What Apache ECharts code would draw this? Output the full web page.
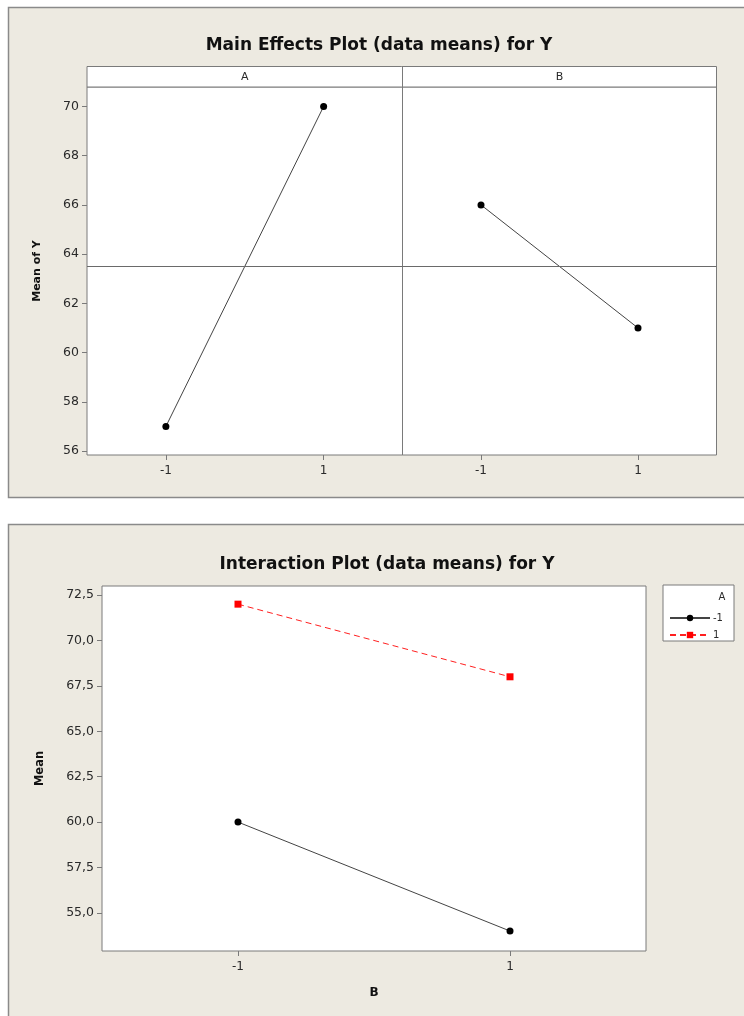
<!DOCTYPE html>
<html>
<head>
<meta charset="utf-8">
<script src="https://cdn.jsdelivr.net/npm/echarts@6/dist/echarts.min.js"></script>
<style>
  html, body { margin: 0; padding: 0; background: #ffffff; }
  #chart { width: 744px; height: 1016px; }
</style>
</head>
<body>
<div id="chart"></div>
<script>
// ---- data ----
const levels = [-1, 1];
const factorNames = ['A', 'B'];
const meanA = [57, 70];          // Mean of Y at A = -1, 1
const meanB = [66, 61];          // Mean of Y at B = -1, 1
const grandMean = 63.5;
const interANeg = [60, 54];      // A = -1, over B = -1, 1
const interAPos = [72, 68];      // A = 1, over B = -1, 1
const interSeriesNames = ['-1', '1'];
const mainTicks = [56, 58, 60, 62, 64, 66, 68, 70];
const interTicks = [55, 57.5, 60, 62.5, 65, 67.5, 70, 72.5];

const FONT = 'DejaVu Sans';
const BG = '#EDEAE1';
const FRAME = '#8a8a8a';
const AXISC = '#7a7a7a';
const TXT = '#2a2a2a';

function pts(ys) { return levels.map((x, i) => [x, ys[i]]); }

function xAxisDef(gridIndex, extra) {
  return Object.assign({
    type: 'value', gridIndex: gridIndex, min: -2, max: 2, position: 'bottom',
    axisLine: { show: false, onZero: false },
    axisTick: { show: true, customValues: levels, length: 5, lineStyle: { color: AXISC } },
    axisLabel: { customValues: levels, color: TXT, fontFamily: FONT, fontSize: 12, margin: 10 },
    splitLine: { show: false }
  }, extra || {});
}

const grids = [
  { left: 87, top: 87, width: 315.5, height: 368 },
  { left: 402.5, top: 87, width: 314, height: 368 },
  { left: 102, top: 586, width: 544, height: 365 }
].map(g => Object.assign({ show: true, backgroundColor: '#ffffff', borderColor: AXISC, borderWidth: 1 }, g));

const mainLine = {
  silent: true, symbol: 'none', label: { show: false },
  lineStyle: { color: '#6a6a6a', type: 'solid', width: 1 },
  data: [{ yAxis: grandMean }]
};

const option = {
  animation: false,
  backgroundColor: '#ffffff',
  graphic: [
    { type: 'rect', z: -10, shape: { x: 8.5, y: 7.5, width: 780, height: 490 },
      style: { fill: BG, stroke: FRAME, lineWidth: 1.5 } },
    { type: 'rect', z: -10, shape: { x: 8.5, y: 524.5, width: 780, height: 540 },
      style: { fill: BG, stroke: FRAME, lineWidth: 1.5 } },
    { type: 'rect', z: 5, shape: { x: 87, y: 66.5, width: 629.5, height: 20.5 },
      style: { fill: '#ffffff', stroke: AXISC, lineWidth: 1 } },
    { type: 'line', z: 6, shape: { x1: 402.5, y1: 66.5, x2: 402.5, y2: 87 },
      style: { stroke: AXISC, lineWidth: 1 } },
    { type: 'text', z: 6, x: 244.7, y: 77, style: { text: factorNames[0], fontFamily: FONT, fontSize: 11, fill: TXT, align: 'center', verticalAlign: 'middle' } },
    { type: 'text', z: 6, x: 559.5, y: 77, style: { text: factorNames[1], fontFamily: FONT, fontSize: 11, fill: TXT, align: 'center', verticalAlign: 'middle' } },
    { type: 'rect', z: 5, shape: { x: 663, y: 585, width: 71, height: 56 },
      style: { fill: '#ffffff', stroke: AXISC, lineWidth: 1 } },
    { type: 'text', z: 6, x: 722, y: 597, style: { text: 'A', fontFamily: FONT, fontSize: 10, fill: TXT, align: 'center', verticalAlign: 'middle' } }
  ],
  title: [
    { text: 'Main Effects Plot (data means) for Y', left: 374, top: 32, textAlign: 'center',
      textStyle: { fontFamily: FONT, fontSize: 17, fontWeight: 'bold', color: '#111' } },
    { text: 'Interaction Plot (data means) for Y', left: 382, top: 551, textAlign: 'center',
      textStyle: { fontFamily: FONT, fontSize: 17, fontWeight: 'bold', color: '#111' } }
  ],
  legend: {
    data: interSeriesNames, orient: 'vertical', left: 664, top: 608,
    itemWidth: 40, itemHeight: 8, itemGap: 7, z: 7,
    textStyle: { fontFamily: FONT, fontSize: 10, color: TXT, padding: [0, 0, 0, -2] }
  },
  grid: grids,
  xAxis: [
    xAxisDef(0),
    xAxisDef(1),
    xAxisDef(2, { name: 'B', nameLocation: 'middle', nameGap: 36,
      nameTextStyle: { fontFamily: FONT, fontSize: 12, fontWeight: 'bold', color: '#111' } })
  ],
  yAxis: [
    { type: 'value', gridIndex: 0, min: 55.84, max: 70.79, position: 'left',
      name: 'Mean of Y', nameLocation: 'middle', nameRotate: 90, nameGap: 44,
      nameTextStyle: { fontFamily: FONT, fontSize: 11, fontWeight: 'bold', color: '#111' },
      axisLine: { show: false, onZero: false },
      axisTick: { show: true, customValues: mainTicks, length: 5, lineStyle: { color: AXISC } },
      axisLabel: { customValues: mainTicks, color: TXT, fontFamily: FONT, fontSize: 12.5, margin: 8 },
      splitLine: { show: false } },
    { type: 'value', gridIndex: 1, min: 55.84, max: 70.79, position: 'left',
      axisLine: { show: false, onZero: false }, axisTick: { show: false }, axisLabel: { show: false }, splitLine: { show: false } },
    { type: 'value', gridIndex: 2, min: 52.9, max: 73.0, position: 'left',
      name: 'Mean', nameLocation: 'middle', nameRotate: 90, nameGap: 56,
      nameTextStyle: { fontFamily: FONT, fontSize: 11.5, fontWeight: 'bold', color: '#111' },
      axisLine: { show: false, onZero: false },
      axisTick: { show: true, customValues: interTicks, length: 5, lineStyle: { color: AXISC } },
      axisLabel: { customValues: interTicks, color: TXT, fontFamily: FONT, fontSize: 12.5, margin: 8,
        formatter: v => v.toFixed(1).replace('.', ',') },
      splitLine: { show: false } }
  ],
  series: [
    { type: 'line', xAxisIndex: 0, yAxisIndex: 0, data: pts(meanA),
      symbol: 'circle', symbolSize: 7, itemStyle: { color: '#000' },
      lineStyle: { color: '#444', width: 1 }, markLine: mainLine },
    { type: 'line', xAxisIndex: 1, yAxisIndex: 1, data: pts(meanB),
      symbol: 'circle', symbolSize: 7, itemStyle: { color: '#000' },
      lineStyle: { color: '#444', width: 1 }, markLine: mainLine },
    { name: interSeriesNames[0], type: 'line', xAxisIndex: 2, yAxisIndex: 2, data: pts(interANeg),
      symbol: 'circle', symbolSize: 7, itemStyle: { color: '#000' },
      lineStyle: { color: '#444', width: 1 } },
    { name: interSeriesNames[1], type: 'line', xAxisIndex: 2, yAxisIndex: 2, data: pts(interAPos),
      symbol: 'rect', symbolSize: 7, itemStyle: { color: '#ff0000' },
      lineStyle: { color: '#ff2020', width: 1, type: [6, 4] } }
  ]
};

const chart = echarts.init(document.getElementById('chart'), null, { renderer: 'canvas' });
chart.setOption(option);
</script>
</body>
</html>
